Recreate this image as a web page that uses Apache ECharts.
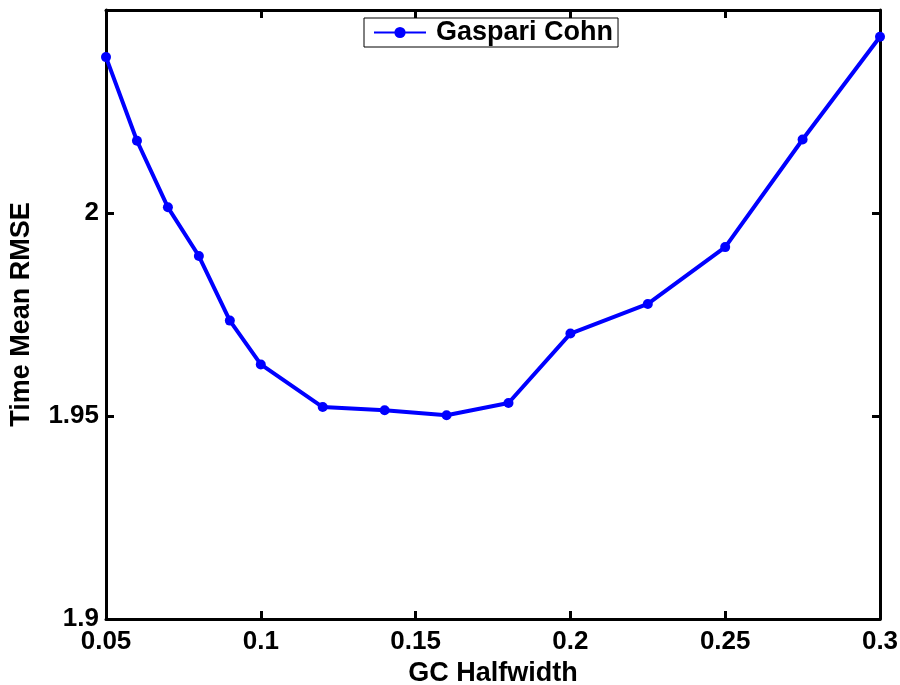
<!DOCTYPE html>
<html>
<head>
<meta charset="utf-8">
<script src="https://cdn.jsdelivr.net/npm/echarts@6/dist/echarts.min.js"></script>
<style>html,body{margin:0;padding:0;background:#fff}#c{width:900px;height:685px}</style>
</head>
<body>
<div id="c"></div>
<script>
var halfwidths = [0.05, 0.06, 0.07, 0.08, 0.09, 0.1, 0.12, 0.14, 0.16, 0.18, 0.2, 0.225, 0.25, 0.275, 0.3];
var rmse = [2.0384, 2.0178, 2.0014, 1.9894, 1.9735, 1.9627, 1.9522, 1.9514, 1.9502, 1.9532, 1.9703, 1.9776, 1.9916, 2.0181, 2.0434];
var seriesName = 'Gaspari Cohn';
var xTitle = 'GC Halfwidth';
var yTitle = 'Time Mean RMSE';

var FONT = 'Liberation Sans, Arial, Helvetica, sans-serif';
var chart = echarts.init(document.getElementById('c'));
var axisCommon = {
  axisLine: {show: true, lineStyle: {color: '#000', width: 3}},
  axisTick: {show: true, inside: true, length: 8, lineStyle: {color: '#000', width: 3}},
  splitLine: {show: false}
};
function txt(size) { return {color: '#000', fontSize: size, fontWeight: 'bold', fontFamily: FONT}; }
chart.setOption({
  animation: false,
  backgroundColor: '#fff',
  grid: {left: 106, right: 20, top: 10, bottom: 66, containLabel: false, outerBoundsMode: 'none'},
  legend: {
    data: [seriesName],
    top: 18, left: 364,
    padding: [1, 5, 1, 9],
    itemWidth: 52, itemHeight: 14, itemGap: 6,
    borderColor: '#000', borderWidth: 1, backgroundColor: '#fff',
    textStyle: Object.assign({padding: [0, 0, 0, 5]}, txt(27))
  },
  xAxis: [
    Object.assign({
      type: 'value', min: 0.05, max: 0.3, interval: 0.05, position: 'bottom',
      name: xTitle, nameLocation: 'middle', nameGap: 38,
      nameTextStyle: txt(27),
      axisLabel: Object.assign({margin: 10}, txt(26))
    }, axisCommon),
    Object.assign({
      type: 'value', min: 0.05, max: 0.3, interval: 0.05, position: 'top',
      axisLabel: {show: false}
    }, axisCommon)
  ],
  yAxis: [
    Object.assign({
      type: 'value', min: 1.9, max: 2.05, interval: 0.05, position: 'left',
      name: yTitle, nameLocation: 'middle', nameGap: 71,
      nameTextStyle: txt(27),
      axisLabel: Object.assign({margin: 7, formatter: function (v) {
        if (Math.abs(v - 2.05) < 1e-6) return '';
        return String(Math.round(v * 100) / 100);
      }}, txt(26))
    }, axisCommon),
    Object.assign({
      type: 'value', min: 1.9, max: 2.05, interval: 0.05, position: 'right',
      axisLabel: {show: false}
    }, axisCommon)
  ],
  series: [{
    name: seriesName,
    type: 'line',
    xAxisIndex: 0, yAxisIndex: 0,
    data: halfwidths.map(function (x, i) { return [x, rmse[i]]; }),
    symbol: 'circle', symbolSize: 10,
    lineStyle: {color: '#0000ff', width: 4},
    itemStyle: {color: '#0000ff'}
  }]
});
</script>
</body>
</html>
